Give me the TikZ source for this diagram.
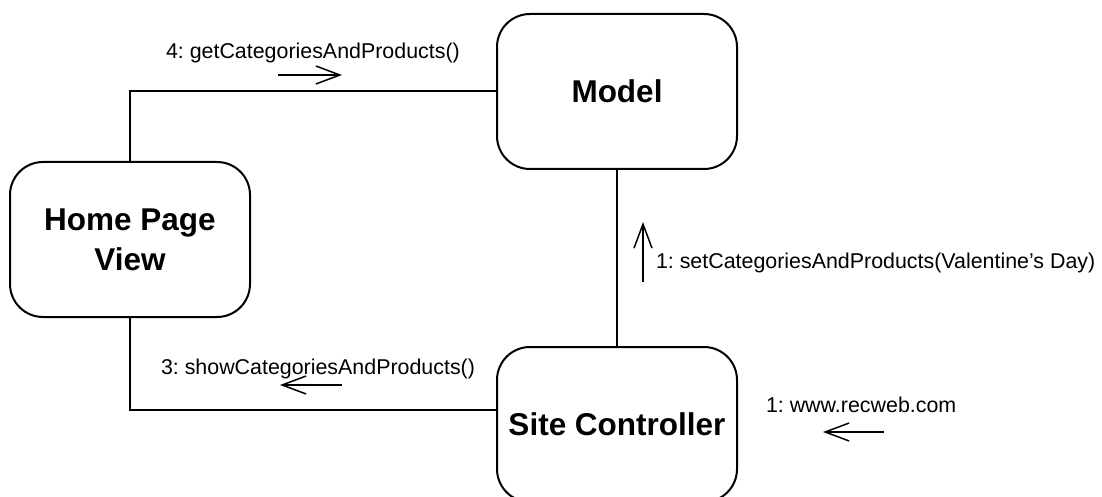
\documentclass[tikz,border=0pt]{standalone}
\usepackage{fontspec}
\setmainfont{Liberation Sans}
\usetikzlibrary{arrows.meta}
\frenchspacing

\begin{document}
\begin{tikzpicture}[x=1pt, y=-1pt, line width=2pt,
        obj/.style={draw, rounded corners=33pt, minimum width=240pt,
            minimum height=155pt, inner sep=0pt, align=center,
            font=\bfseries\fontsize{31.5}{40}\selectfont},
        msg/.style={line width=1.5pt, -{Straight Barb[length=24pt,width=18pt]}},
        lbl/.style={inner sep=0pt, anchor=base west, font=\fontsize{21.4}{26}\selectfont}]
    \useasboundingbox (0,0) rectangle (1102,497);
    \node[obj] (model) at (617,91.5) {Model};
    \node[obj] (home) at (130,239.5) {Home Page\\View};
    \node[obj] (site) at (617,424.5) {Site Controller};
    \draw (home.north) |- (model.west);
    \draw (home.south) |- ([yshift=15pt]site.west);
    \draw (model.south) -- (site.north);
    % messages
    \coordinate (g1) at (278,75);  \coordinate (g2) at (342,75);
    \coordinate (s1) at (643,282); \coordinate (s2) at (643,222);
    \coordinate (h1) at (342,385); \coordinate (h2) at (280,385);
    \coordinate (w1) at (884,432); \coordinate (w2) at (823,432);
    \draw[msg] (g1) -- (g2);
    \draw[msg] (s1) -- (s2);
    \draw[msg] (h1) -- (h2);
    \draw[msg] (w1) -- (w2);
    \node[lbl] (getlbl) at (165,59) {4: getCategoriesAndProducts()};
    \node[lbl] (setlbl) at (655,268) {1: setCategoriesAndProducts(Valentine’s Day)};
    \node[lbl] (showlbl) at (160,374) {3: showCategoriesAndProducts()};
    \node[lbl] (weblbl) at (765,412) {1: www.recweb.com};
\end{tikzpicture}
\end{document}
